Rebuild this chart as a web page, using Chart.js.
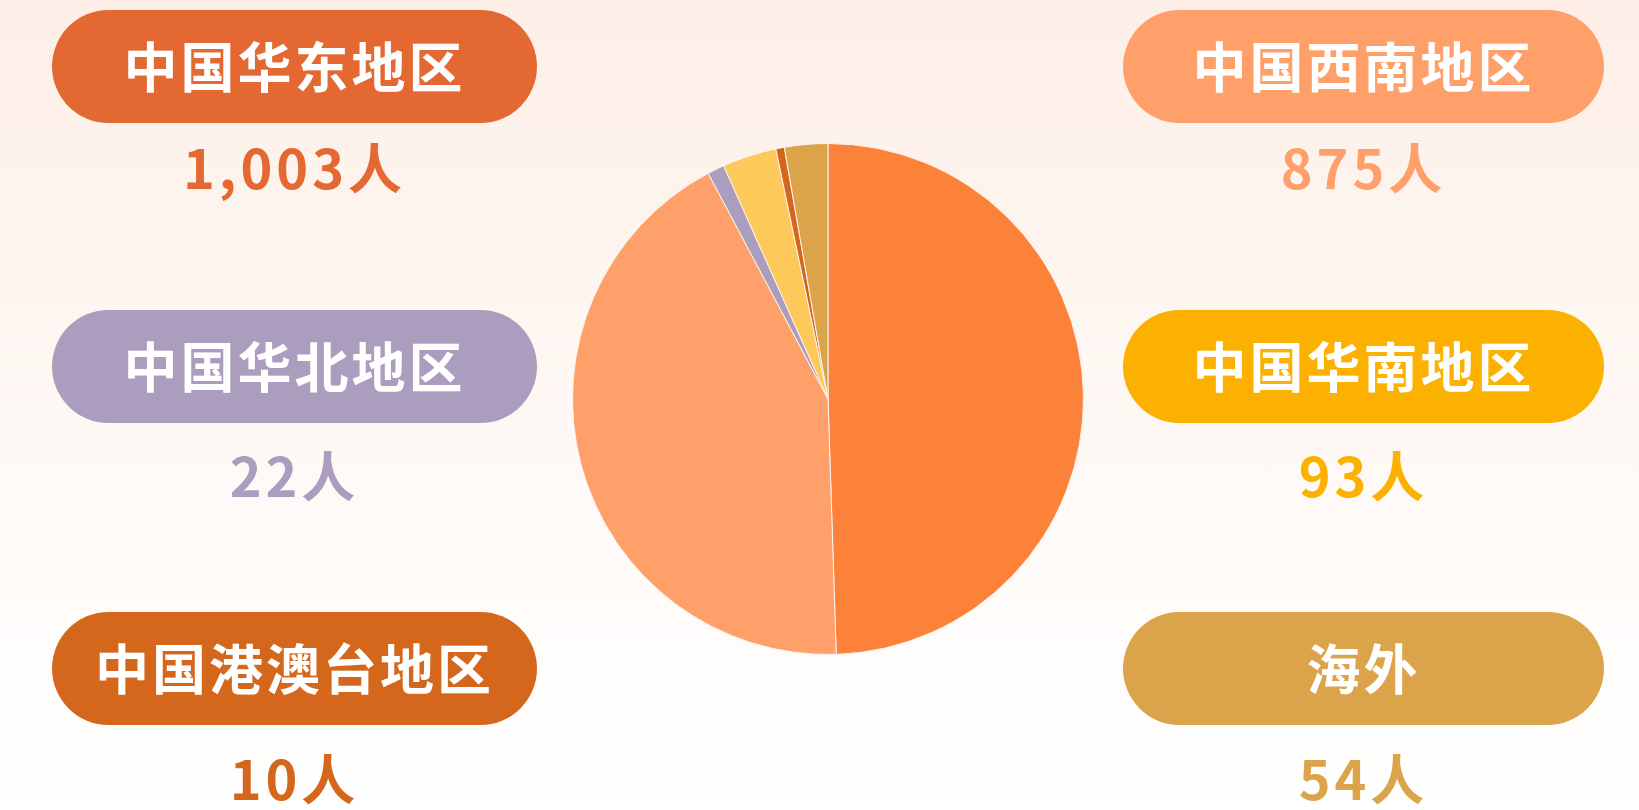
<!DOCTYPE html>
<html>
<head>
<meta charset="utf-8">
<script src="https://cdn.jsdelivr.net/npm/chart.js@4"></script>
<style>
    html, body {
        margin: 0;
        padding: 0;
    }
    body {
        width: 1639px;
        height: 810px;
        position: relative;
        overflow: hidden;
        background: linear-gradient(to bottom, #fdefe7 0%, #fef8f4 50%, #ffffff 100%);
        font-family: "Noto Sans CJK SC", "Noto Sans", sans-serif;
    }
    #pie {
        position: absolute;
        left: 0;
        top: 0;
    }
    .pill {
        position: absolute;
        height: 113px;
        border-radius: 57px;
        color: #fff;
        font-size: 54px;
        font-weight: 700;
        letter-spacing: 3px;
        box-sizing: border-box;
        padding-bottom: 5px;
        display: flex;
        align-items: center;
        justify-content: center;
    }
    .num {
        position: absolute;
        height: 60px;
        font-size: 54px;
        font-weight: 700;
        letter-spacing: 4px;
        display: flex;
        align-items: center;
        justify-content: center;
    }
</style>
</head>
<body>
<canvas id="pie" width="1639" height="810"></canvas>

<script>
const regions = ["中国华东地区", "中国西南地区", "中国华北地区", "中国华南地区", "中国港澳台地区", "海外"];
// numbers printed under each label
const counts = [1003, 875, 22, 93, 10, 54];
// slice sizes as drawn in the pie
const sliceValues = [1013, 875, 22, 70, 11, 56];
const sliceColors = ["#fb8238", "#ffa06b", "#ab9dbd", "#fdc95b", "#d5671d", "#dca44a"];
const labelColors = ["#e46831", "#ffa06b", "#ab9dbd", "#fcb100", "#d5671d", "#dca44a"];

// where each label card sits: [left, width, pillTop, numberCenter]
const spots = [
    [52, 485, 10, 165],
    [1123, 481, 10, 165],
    [52, 485, 310, 473],
    [1123, 481, 310, 473],
    [52, 485, 612, 776],
    [1123, 481, 612, 776]
];

regions.forEach((name, i) => {
    const [left, width, top, numY] = spots[i];

    const pill = document.createElement("div");
    pill.className = "pill";
    pill.style.left = left + "px";
    pill.style.width = width + "px";
    pill.style.top = top + "px";
    pill.style.background = labelColors[i];
    pill.textContent = name;
    document.body.appendChild(pill);

    const num = document.createElement("div");
    num.className = "num";
    num.style.left = left + "px";
    num.style.width = width + "px";
    num.style.top = (numY - 30) + "px";
    num.style.color = labelColors[i];
    num.textContent = counts[i].toLocaleString("en-US") + "人";
    document.body.appendChild(num);
});

new Chart(document.getElementById("pie"), {
    type: "pie",
    data: {
        labels: regions,
        datasets: [{
            data: sliceValues,
            backgroundColor: sliceColors,
            borderColor: "#fdf3ee",
            borderWidth: 1
        }]
    },
    options: {
        responsive: false,
        animation: false,
        layout: {
            padding: { left: 572, right: 555, top: 143, bottom: 155 }
        },
        plugins: {
            legend: { display: false },
            tooltip: { enabled: false }
        }
    }
});
</script>
</body>
</html>
